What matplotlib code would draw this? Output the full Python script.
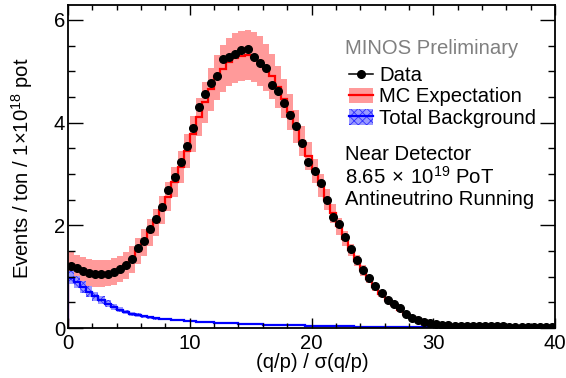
import numpy as np
import matplotlib
matplotlib.use('Agg')
import matplotlib.pyplot as plt
from matplotlib.lines import Line2D
from matplotlib.patches import Patch

# 80 bins of 0.5 in (q/p)/sigma(q/p), 0..40
bin_lo, bin_hi, n_bins = 0.0, 40.0, 80

data = [1.20, 1.16, 1.11, 1.07, 1.05, 1.05, 1.06, 1.09, 1.15, 1.23,
        1.35, 1.56, 1.70, 1.93, 2.12, 2.36, 2.69, 2.94, 3.24, 3.55,
        3.90, 4.31, 4.56, 4.78, 4.90, 5.24, 5.28, 5.33, 5.42, 5.44,
        5.27, 5.17, 5.07, 4.73, 4.61, 4.39, 4.15, 3.94, 3.61, 3.23,
        3.06, 2.82, 2.49, 2.17, 2.02, 1.77, 1.53, 1.33, 1.13, 0.97,
        0.82, 0.69, 0.55, 0.47, 0.38, 0.27, 0.20, 0.16, 0.12, 0.09,
        0.07, 0.06, 0.05, 0.045, 0.04, 0.04, 0.035, 0.035, 0.03, 0.03,
        0.03, 0.03, 0.025, 0.025, 0.025, 0.025, 0.02, 0.02, 0.02, 0.02]

mc = [1.22, 1.17, 1.12, 1.08, 1.06, 1.06, 1.07, 1.10, 1.15, 1.22,
      1.33, 1.50, 1.66, 1.86, 2.06, 2.30, 2.56, 2.84, 3.13, 3.45,
      3.78, 4.10, 4.40, 4.65, 4.88, 5.05, 5.18, 5.26, 5.30, 5.31,
      5.28, 5.20, 5.07, 4.90, 4.70, 4.46, 4.20, 3.93, 3.64, 3.35,
      3.06, 2.78, 2.50, 2.23, 1.98, 1.74, 1.52, 1.31, 1.12, 0.95,
      0.80, 0.66, 0.54, 0.44, 0.35, 0.28, 0.22, 0.17, 0.13, 0.10,
      0.08, 0.06, 0.05, 0.045, 0.04, 0.038, 0.035, 0.033, 0.03, 0.03,
      0.028, 0.026, 0.025, 0.024, 0.022, 0.021, 0.02, 0.02, 0.02, 0.02]

mc_err = [0.26, 0.26, 0.26, 0.26, 0.26, 0.26, 0.26, 0.26, 0.26, 0.26,
          0.26, 0.26, 0.26, 0.26, 0.26, 0.27, 0.28, 0.29, 0.31, 0.33,
          0.35, 0.37, 0.40, 0.42, 0.44, 0.46, 0.47, 0.48, 0.49, 0.49,
          0.49, 0.48, 0.46, 0.44, 0.41, 0.38, 0.35, 0.32, 0.29, 0.27,
          0.24, 0.22, 0.20, 0.18, 0.16, 0.14, 0.12, 0.11, 0.10, 0.08,
          0.07, 0.06, 0.05, 0.04, 0.035, 0.03, 0.02, 0.02, 0.015, 0.01,
          0.01, 0.01, 0.01, 0.01, 0.01, 0.01, 0.01, 0.01, 0.01, 0.01,
          0.01, 0.01, 0.01, 0.01, 0.01, 0.01, 0.01, 0.01, 0.01, 0.01]

bkg = [0.98, 0.90, 0.80, 0.71, 0.62, 0.54, 0.47, 0.41, 0.36, 0.31,
       0.28, 0.25, 0.23, 0.21, 0.19, 0.18, 0.17, 0.16, 0.15, 0.14,
       0.13, 0.12, 0.115, 0.11, 0.10, 0.10, 0.095, 0.09, 0.085, 0.08,
       0.075, 0.07, 0.068, 0.065, 0.06, 0.058, 0.055, 0.052, 0.05, 0.048,
       0.045, 0.043, 0.04, 0.038, 0.035, 0.033, 0.03, 0.028, 0.026, 0.024,
       0.022, 0.02, 0.019, 0.018, 0.016, 0.015, 0.014, 0.013, 0.012, 0.01,
       0.008, 0.007, 0.006, 0.005, 0.005, 0.004, 0.004, 0.003, 0.003, 0.003,
       0.002, 0.002, 0.002, 0.002, 0.002, 0.002, 0.002, 0.002, 0.002, 0.002]

bkg_err = [0.13, 0.12, 0.11, 0.10, 0.09, 0.08, 0.07, 0.06, 0.05, 0.045,
           0.04, 0.035, 0.03, 0.028, 0.025, 0.022, 0.02, 0.018, 0.016, 0.015,
           0.014, 0.013, 0.012, 0.012, 0.011, 0.011, 0.01, 0.01, 0.01, 0.01,
           0.008, 0.008, 0.008, 0.008, 0.008, 0.008, 0.008, 0.008, 0.008, 0.008,
           0.007, 0.007, 0.007, 0.007, 0.007, 0.007, 0.007, 0.007, 0.007, 0.007,
           0.006, 0.006, 0.006, 0.006, 0.006, 0.006, 0.006, 0.006, 0.006, 0.006,
           0.004, 0.004, 0.004, 0.004, 0.004, 0.004, 0.004, 0.004, 0.004, 0.004,
           0.002, 0.002, 0.002, 0.002, 0.002, 0.002, 0.002, 0.002, 0.002, 0.002]

x_ticks = [0, 10, 20, 30, 40]
y_ticks = [0, 2, 4, 6]

plt.rcParams['font.family'] = ['Liberation Sans', 'DejaVu Sans']
plt.rcParams['hatch.linewidth'] = 0.6
plt.rcParams['mathtext.fontset'] = 'custom'
plt.rcParams['mathtext.rm'] = 'Liberation Sans'

FS = 14.6
W, H = 566, 378
fig = plt.figure(figsize=(W / 100, H / 100), dpi=100)
ax = fig.add_axes([68 / W, 1 - 328 / H, (555 - 68) / W, (328 - 5) / H])

edges = np.linspace(bin_lo, bin_hi, n_bins + 1)
centers = 0.5 * (edges[1:] + edges[:-1])
mc = np.array(mc); mc_err = np.array(mc_err)
bkg = np.array(bkg); bkg_err = np.array(bkg_err)

pink = '#ff9a9a'
bkg_face = '#9a9aff'
ax.stairs(mc + mc_err, edges, baseline=mc - mc_err, fill=True, color=pink, lw=0)
ax.stairs(mc, edges, color='red', lw=1.6)
ax.stairs(bkg + bkg_err, edges, baseline=bkg - bkg_err, fill=True,
          facecolor=bkg_face, edgecolor='#3030ff', hatch='xxxx', lw=0)
ax.stairs(bkg, edges, color='blue', lw=1.6)
ax.errorbar(centers, data, xerr=0.25, fmt='o', color='black', ms=5.5,
            lw=1.1, capsize=0, zorder=5)

ax.set_xlim(bin_lo, bin_hi)
ax.set_ylim(0, 6.29)
ax.set_xticks(x_ticks)
ax.set_yticks(y_ticks)
ax.set_xticks(np.arange(0, 41, 2), minor=True)
ax.set_yticks(np.arange(0, 6.3, 0.5), minor=True)
ax.tick_params(axis='both', which='both', direction='in', top=True, right=True,
               labelsize=FS, width=1.0)
ax.tick_params(axis='x', which='major', length=7, pad=4)
ax.tick_params(axis='x', which='minor', length=3.5)
ax.tick_params(axis='y', which='major', length=10.5, pad=2)
ax.tick_params(axis='y', which='minor', length=5.3)
for s in ax.spines.values():
    s.set_linewidth(1.3)


def ftxt(x, y, s, **kw):
    kw.setdefault('ha', 'left')
    fig.text(x / W, 1 - y / H, s, va='center', fontsize=FS, **kw)


ftxt(312, 362, '(q/p) / σ(q/p)', ha='center')
ftxt(22, 168, r'Events / ton / 1$\times$10$^{18}$ pot', ha='center', rotation=90)

ftxt(345, 48, 'MINOS Preliminary', color='#808080')
ftxt(345, 154, 'Near Detector')
ftxt(345, 177, r'8.65$\,\times\,$10$^{19}$ PoT')
ftxt(345, 199, 'Antineutrino Running')

h_data = Line2D([], [], color='black', marker='o', ms=5.5, lw=1.1)
h_mc = (Patch(facecolor=pink, lw=0), Line2D([], [], color='red', lw=1.6))
h_bkg = (Patch(facecolor=bkg_face, edgecolor='#3030ff', hatch='xxxx', lw=0),
         Line2D([], [], color='blue', lw=1.6))
ax.legend([h_data, h_mc, h_bkg], ['Data', 'MC Expectation', 'Total Background'],
          loc='upper left', bbox_to_anchor=(349 / W, 1 - 66 / H),
          bbox_transform=fig.transFigure, frameon=False, fontsize=FS,
          borderpad=0, borderaxespad=0, handlelength=1.2, handleheight=0.8,
          handletextpad=0.3, labelspacing=0.12)

fig.savefig('out.png', dpi=100)
